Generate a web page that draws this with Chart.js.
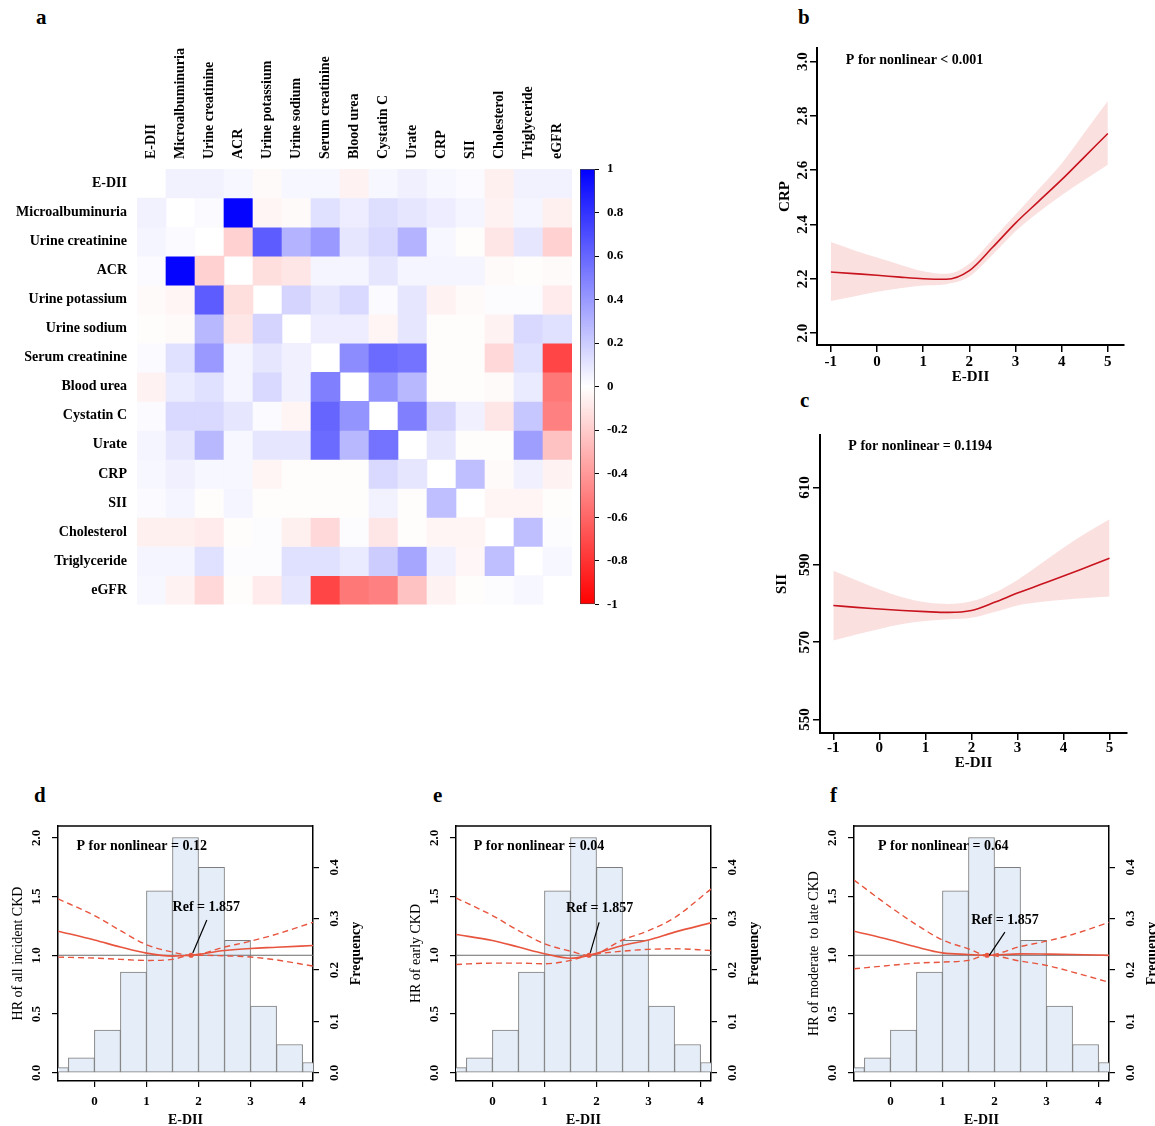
<!DOCTYPE html>
<html>
<head>
<meta charset="utf-8">
<script src="https://cdn.jsdelivr.net/npm/chart.js@4.4.1/dist/chart.umd.min.js"></script>
<style>
  html, body { margin: 0; padding: 0; background: #fff; overflow: hidden; }
  #fig { position: relative; width: 1155px; height: 1126px; overflow: hidden; }
  .box { position: absolute; }
  .tag { position: absolute; font: bold 21px "Liberation Serif", "Times New Roman", serif; color: #000; }
</style>
</head>
<body>
<div id="fig">
  <div class="tag" style="left:36px;top:5px">a</div>
  <div class="tag" style="left:798px;top:5px">b</div>
  <div class="tag" style="left:800px;top:388px">c</div>
  <div class="tag" style="left:34px;top:783px">d</div>
  <div class="tag" style="left:433px;top:783px">e</div>
  <div class="tag" style="left:830px;top:783px">f</div>

  <!-- extra 18px at the bottom is eaten by the y-axis label padding -->
  <div class="box" style="left:0;top:0;width:572px;height:623px"><canvas id="heat"></canvas></div>
  <div class="box" style="left:560px;top:150px;width:80px;height:470px"><canvas id="cbar"></canvas></div>
  <div class="box" style="left:760px;top:35px;width:395px;height:360px"><canvas id="crp"></canvas></div>
  <div class="box" style="left:760px;top:425px;width:395px;height:350px"><canvas id="sii"></canvas></div>
  <div class="box" style="left:0;top:810px;width:376px;height:330px"><canvas id="hrAll"></canvas></div>
  <div class="box" style="left:398px;top:810px;width:376px;height:330px"><canvas id="hrEarly"></canvas></div>
  <div class="box" style="left:796px;top:810px;width:376px;height:330px"><canvas id="hrLate"></canvas></div>
</div>
<script>
// ---- data ----
const heatVars = ["E-DII", "Microalbuminuria", "Urine creatinine", "ACR", "Urine potassium", "Urine sodium",
  "Serum creatinine", "Blood urea", "Cystatin C", "Urate", "CRP", "SII", "Cholesterol", "Triglyceride", "eGFR"];

// correlation rows (diagonal left blank, as in the picture)
const corrRows = [
  [null, 0.05, 0.05, 0.03, -0.02, 0.03, 0.03, -0.05, 0.03, 0.06, 0.03, 0.02, -0.06, 0.05, 0.05],
  [0.05, null, 0.02, 0.98, -0.04, -0.02, 0.12, 0.07, 0.13, 0.10, 0.07, 0.04, -0.05, 0.04, -0.06],
  [0.04, 0.02, null, -0.18, 0.64, 0.30, 0.40, 0.10, 0.15, 0.30, 0.03, -0.01, -0.10, 0.10, -0.18],
  [0.02, 0.98, -0.18, null, -0.13, -0.10, 0.04, 0.04, 0.10, 0.04, 0.04, 0.04, -0.02, -0.01, -0.02],
  [-0.02, -0.04, 0.64, -0.13, null, 0.17, 0.10, 0.15, 0.02, 0.10, -0.05, -0.02, 0.01, 0.01, -0.08],
  [-0.01, -0.02, 0.28, -0.10, 0.17, null, 0.07, 0.07, -0.04, 0.10, -0.01, -0.01, -0.05, 0.15, 0.12],
  [0.02, 0.12, 0.40, 0.04, 0.10, 0.06, null, 0.45, 0.58, 0.55, -0.01, -0.01, -0.15, 0.12, -0.73],
  [-0.05, 0.08, 0.12, 0.04, 0.15, 0.06, 0.50, null, 0.42, 0.28, -0.01, -0.01, -0.02, 0.08, -0.53],
  [0.02, 0.15, 0.15, 0.10, 0.02, -0.04, 0.60, 0.42, null, 0.50, 0.17, 0.06, -0.10, 0.22, -0.50],
  [0.04, 0.10, 0.28, 0.03, 0.10, 0.10, 0.58, 0.28, 0.55, null, 0.10, -0.01, -0.01, 0.38, -0.24],
  [0.03, 0.06, 0.03, 0.03, -0.04, -0.01, -0.01, -0.01, 0.15, 0.10, null, 0.25, -0.02, 0.06, -0.05],
  [0.02, 0.04, -0.01, 0.04, -0.01, -0.01, -0.01, -0.01, 0.05, -0.01, 0.25, null, -0.04, -0.04, -0.01],
  [-0.06, -0.06, -0.08, -0.01, 0.01, -0.06, -0.15, 0.01, -0.10, -0.01, -0.04, -0.04, null, 0.25, 0.01],
  [0.04, 0.04, 0.12, 0.01, 0.01, 0.12, 0.12, 0.08, 0.20, 0.35, 0.06, -0.03, 0.25, null, 0.03],
  [0.03, -0.05, -0.15, -0.01, -0.08, 0.10, -0.73, -0.53, -0.50, -0.24, -0.05, -0.01, 0.01, 0.03, null],
];
const colorbarTicks = [-1, -0.8, -0.6, -0.4, -0.2, 0, 0.2, 0.4, 0.6, 0.8, 1];

// restricted cubic spline panels (b, c)
const splineX = [-1, -0.5, 0, 0.5, 1, 1.5, 2, 2.5, 3, 3.5, 4, 4.5, 5];
const crpFit = [2.225, 2.219, 2.213, 2.206, 2.200, 2.198, 2.230, 2.315, 2.405, 2.485, 2.565, 2.650, 2.735];
const crpUpper = [2.335, 2.305, 2.278, 2.252, 2.228, 2.218, 2.255, 2.345, 2.437, 2.530, 2.625, 2.740, 2.855];
const crpLower = [2.118, 2.135, 2.152, 2.165, 2.175, 2.180, 2.208, 2.288, 2.375, 2.445, 2.508, 2.565, 2.620];
const siiFit = [579.5, 579.0, 578.6, 578.2, 577.9, 577.7, 578.2, 580.3, 582.7, 584.9, 587.1, 589.4, 591.7];
const siiUpper = [588.5, 586.0, 583.6, 581.6, 580.3, 579.9, 580.6, 582.8, 586.1, 590.2, 594.4, 598.3, 601.8];
const siiLower = [570.4, 572.0, 573.4, 574.7, 575.5, 575.9, 576.3, 577.8, 579.5, 580.4, 581.0, 581.4, 581.8];
const splineXTicks = [-1, 0, 1, 2, 3, 4, 5];
const crpTicks = [2.0, 2.2, 2.4, 2.6, 2.8, 3.0];
const siiTicks = [550, 570, 590, 610];

// hazard ratio panels (d, e, f)
const histCenters = [-0.75, -0.25, 0.25, 0.75, 1.25, 1.75, 2.25, 2.75, 3.25, 3.75, 4.25];
const histFreq = [0.010, 0.029, 0.083, 0.196, 0.354, 0.458, 0.400, 0.258, 0.130, 0.055, 0.020];
const hrX = [-0.7, 0, 0.5, 1, 1.5, 1.857, 2.5, 3, 3.5, 4.2];
const refEdii = 1.857;
const allFit = [1.205, 1.13, 1.07, 1.018, 0.993, 1.0, 1.04, 1.058, 1.068, 1.083];
const allUpper = [1.48, 1.338, 1.21, 1.09, 1.027, 1.0, 1.07, 1.12, 1.18, 1.28];
const allLower = [0.984, 0.976, 0.965, 0.956, 0.965, 1.0, 0.995, 0.985, 0.96, 0.908];
const earlyFit = [1.177, 1.126, 1.07, 1.013, 0.975, 1.0, 1.083, 1.13, 1.197, 1.276];
const earlyUpper = [1.488, 1.338, 1.21, 1.098, 1.035, 1.0, 1.13, 1.21, 1.32, 1.564];
const earlyLower = [0.922, 0.933, 0.933, 0.928, 0.956, 1.0, 1.035, 1.05, 1.055, 1.041];
const lateFit = [1.205, 1.13, 1.07, 1.02, 1.007, 1.0, 1.012, 1.01, 1.007, 0.999];
const lateUpper = [1.64, 1.41, 1.26, 1.13, 1.055, 1.0, 1.075, 1.12, 1.177, 1.28];
const lateLower = [0.885, 0.914, 0.933, 0.942, 0.956, 1.0, 0.95, 0.914, 0.857, 0.77];
const hrXTicks = [0, 1, 2, 3, 4];
const hrTicks = [0, 0.5, 1, 1.5, 2];
const freqTicks = [0, 0.1, 0.2, 0.3, 0.4];

// ---- helpers ----
const serif = '"Liberation Serif", "Times New Roman", serif';
Chart.defaults.font.family = serif;
Chart.defaults.color = "#000";
Chart.defaults.animation = false;
Chart.defaults.plugins.legend.display = false;
Chart.defaults.plugins.tooltip.enabled = false;

const bold = (size) => ({ family: serif, size, weight: "bold" });
const pts = (xs, ys) => xs.map((x, i) => ({ x, y: ys[i] }));
const fixTicks = (vals) => (s) => { s.ticks = vals.map((value) => ({ value })); };

function corrColor(v) {
  if (v === null) return "rgba(0,0,0,0)";
  const t = Math.round(255 * (1 - Math.abs(v)));
  return v >= 0 ? `rgb(${t},${t},255)` : `rgb(255,${t},${t})`;
}

// text + leader lines + frame, placed in data units
const notes = {
  id: "notes",
  afterDraw(chart, args, opts) {
    const { ctx, scales, chartArea } = chart;
    const px = (v) => scales.x.getPixelForValue(v);
    const py = (v) => scales.y.getPixelForValue(v);
    ctx.save();
    ctx.fillStyle = "#000";
    ctx.strokeStyle = "#000";
    if (opts.frame) {
      ctx.lineWidth = 1.5;
      ctx.beginPath();
      ctx.moveTo(chartArea.left, chartArea.top);
      ctx.lineTo(chartArea.right, chartArea.top);
      ctx.stroke();
    }
    for (const l of opts.lines || []) {
      ctx.lineWidth = 1.2;
      ctx.beginPath();
      ctx.moveTo(px(l[0]), py(l[1]));
      ctx.lineTo(px(l[2]), py(l[3]));
      ctx.stroke();
    }
    for (const n of opts.texts || []) {
      ctx.font = `bold 14px ${serif}`;
      ctx.textAlign = n.align || "left";
      ctx.textBaseline = "middle";
      ctx.fillText(n.text, px(n.x), py(n.y));
    }
    if (opts.sideTitle) {
      ctx.font = `bold 14px ${serif}`;
      ctx.translate(chartArea.right + opts.sideTitle.offset, (chartArea.top + chartArea.bottom) / 2);
      ctx.rotate(-Math.PI / 2);
      ctx.textAlign = "center";
      ctx.textBaseline = "middle";
      ctx.fillText(opts.sideTitle.text, 0, 0);
    }
    ctx.restore();
  },
};

// ---- a: correlation heatmap ----
new Chart(document.getElementById("heat"), {
  type: "bar",
  data: {
    labels: heatVars,
    datasets: corrRows.map((row, r) => ({
      data: row.map((v) => (v === null ? null : [r, r + 1])),
      backgroundColor: row.map(corrColor),
      borderWidth: 0,
      barPercentage: 1,
      categoryPercentage: 1,
      grouped: false,
    })),
  },
  options: {
    responsive: true,
    maintainAspectRatio: false,
    layout: { padding: 0 },
    scales: {
      x: {
        position: "top",
        grid: { display: false, drawTicks: false },
        border: { display: false },
        // rotated top labels sit one line-height left of the tick, push them back
        ticks: { minRotation: 90, maxRotation: 90, autoSkip: false, padding: 10, labelOffset: 16.8, font: bold(14) },
        afterFit: (s) => { s.height = 169; },
      },
      y: {
        type: "linear",
        min: 0,
        max: 15,
        reverse: true,
        grid: { display: false, drawTicks: false },
        border: { display: false },
        afterBuildTicks: (s) => { s.ticks = heatVars.map((_, i) => ({ value: i + 0.5 })); },
        ticks: { autoSkip: false, padding: 10, font: bold(14), callback: (v) => heatVars[Math.floor(v)] },
        afterFit: (s) => { s.width = 137; },
      },
    },
  },
});

// colour bar
function barGradient(ctx) {
  const a = ctx.chart.chartArea;
  if (!a) return "#fff";
  const g = ctx.chart.ctx.createLinearGradient(0, a.bottom, 0, a.top);
  g.addColorStop(0, corrColor(-1));
  g.addColorStop(0.5, "#fff");
  g.addColorStop(1, corrColor(1));
  return g;
}
new Chart(document.getElementById("cbar"), {
  type: "bar",
  data: {
    labels: [""],
    datasets: [{
      data: [[-1, 1]],
      backgroundColor: barGradient,
      borderColor: "#444",
      borderWidth: 1,
      borderSkipped: false,
      barPercentage: 1,
      categoryPercentage: 1,
    }],
  },
  options: {
    responsive: true,
    maintainAspectRatio: false,
    layout: { padding: { left: 20, top: 19, bottom: 15 } },
    scales: {
      x: { display: false },
      y: {
        position: "right",
        min: -1,
        max: 1,
        afterBuildTicks: fixTicks(colorbarTicks),
        grid: { drawOnChartArea: false, tickLength: 4, color: "#000" },
        border: { display: false },
        ticks: { padding: 8, font: bold(13), autoSkip: false, callback: (v) => String(Math.round(v * 10) / 10) },
        afterFit: (s) => { s.width = 45; },
      },
    },
  },
});

// ---- b, c: spline panels ----
function splinePanel(id, fit, upper, lower, o) {
  const axisLine = { color: "#000", width: 2 };
  const tickGrid = { drawOnChartArea: false, tickLength: 7, color: "#000", lineWidth: 1.5 };
  new Chart(document.getElementById(id), {
    type: "line",
    data: {
      datasets: [
        { data: pts(splineX, fit), borderColor: "#c8141e", borderWidth: 1.6, pointRadius: 0,
          cubicInterpolationMode: "monotone", fill: false, order: 0 },
        { data: pts(splineX, upper), borderColor: "rgba(0,0,0,0)", borderWidth: 0, pointRadius: 0,
          cubicInterpolationMode: "monotone", fill: "+1", backgroundColor: "#fbe0e0", order: 2 },
        { data: pts(splineX, lower), borderColor: "rgba(0,0,0,0)", borderWidth: 0, pointRadius: 0,
          cubicInterpolationMode: "monotone", fill: false, order: 3 },
      ],
    },
    plugins: [notes],
    options: {
      responsive: true,
      maintainAspectRatio: false,
      layout: { padding: o.pad },
      plugins: { notes: { texts: [o.note] } },
      scales: {
        x: {
          type: "linear", min: o.xMin, max: o.xMax,
          afterBuildTicks: fixTicks(splineXTicks),
          grid: tickGrid, border: axisLine,
          ticks: { padding: o.xPad, font: bold(15), autoSkip: false, callback: (v) => String(v) },
          title: { display: true, text: "E-DII", font: bold(15), padding: { top: 0, bottom: o.xTitlePad } },
          afterFit: (s) => { s.height = o.xH; },
        },
        y: {
          min: o.yMin, max: o.yMax,
          afterBuildTicks: fixTicks(o.yTicks),
          grid: tickGrid, border: axisLine,
          ticks: { minRotation: 90, crossAlign: "center", padding: o.yPad, font: bold(15), autoSkip: false, callback: o.yFmt },
          title: { display: true, text: o.yTitle, font: bold(15), padding: { top: o.yTitlePad, bottom: 0 } },
          afterFit: (s) => { s.width = o.yW; },
        },
      },
    },
  });
}

splinePanel("crp", crpFit, crpUpper, crpLower, {
  pad: { top: 13, right: 31 }, xMin: -1.3, xMax: 5.35, yMin: 1.956, yMax: 3.05,
  yTicks: crpTicks, yFmt: (v) => v.toFixed(1), yTitle: "CRP",
  xH: 50, yW: 57, xPad: 1, yPad: -2, xTitlePad: 9, yTitlePad: 16,
  note: { text: "P for nonlinear < 0.001", x: -0.675, y: 3.004 },
});
splinePanel("sii", siiFit, siiUpper, siiLower, {
  pad: { top: 10, right: 28 }, xMin: -1.29, xMax: 5.38, yMin: 546.5, yMax: 623.6,
  yTicks: siiTicks, yFmt: (v) => String(v), yTitle: "SII",
  xH: 42, yW: 60, xPad: -1, yPad: -3, xTitlePad: 3, yTitlePad: 12.7,
  note: { text: "P for nonlinear = 0.1194", x: -0.674, y: 620.6 },
});

// ---- d, e, f: hazard ratio with E-DII histogram ----
function hrPanel(id, fit, upper, lower, yTitle, o) {
  const red = "#e8553f";
  const boxLine = { color: "#000", width: 1.5 };
  const tickGrid = { drawOnChartArea: false, tickLength: 6, color: "#000", lineWidth: 1.2, offset: false };
  const curve = (ys, dash, w) => ({
    type: "line", data: pts(hrX, ys), borderColor: red, borderWidth: w, borderDash: dash,
    pointRadius: 0, cubicInterpolationMode: "monotone", fill: false, order: 2, clip: 0,
  });
  new Chart(document.getElementById(id), {
    type: "bar",
    data: {
      datasets: [
        { type: "line", data: [{ x: refEdii, y: 1 }], showLine: false, pointRadius: 2.6,
          pointBackgroundColor: red, pointBorderWidth: 0, order: 0 },
        curve(fit, [], 1.6),
        curve(upper, [6, 4], 1.4),
        curve(lower, [6, 4], 1.4),
        { type: "line", data: [{ x: -0.7, y: 1 }, { x: 4.2, y: 1 }], borderColor: "#6b6b6b", borderWidth: 1,
          pointRadius: 0, order: 5 },
        { type: "bar", data: pts(histCenters, histFreq), yAxisID: "y2", backgroundColor: "#e5eef8",
          borderColor: "#7d7d7d", borderWidth: 1, borderSkipped: false, barPercentage: 1,
          categoryPercentage: 1, order: 10, clip: 0 },
      ],
    },
    plugins: [notes],
    options: {
      responsive: true,
      maintainAspectRatio: false,
      layout: { padding: { top: 16 } },
      plugins: {
        notes: {
          frame: true,
          texts: [o.pNote, o.refNote],
          lines: [o.leader],
          sideTitle: { text: "Frequency", offset: 43 },
        },
      },
      scales: {
        x: {
          type: "linear", min: -0.7, max: 4.2, offset: false,
          afterBuildTicks: fixTicks(hrXTicks),
          grid: tickGrid, border: boxLine,
          ticks: { padding: 7, font: bold(13), autoSkip: false, callback: (v) => String(v) },
          title: { display: true, text: "E-DII", font: bold(14), padding: { top: 0, bottom: 11.6 } },
          afterFit: (s) => { s.height = 59; },
        },
        y: {
          position: "left", min: -0.07, max: 2.1,
          afterBuildTicks: fixTicks(hrTicks),
          grid: tickGrid, border: boxLine,
          ticks: { minRotation: 90, crossAlign: "center", padding: 7, font: bold(13), autoSkip: false,
            callback: (v) => v.toFixed(1) },
          title: { display: true, text: yTitle, font: { family: serif, size: 14 }, padding: { top: 9.6, bottom: 0 } },
          afterFit: (s) => { s.width = 58; },
        },
        y2: {
          position: "right", min: -0.016, max: 0.4803,
          afterBuildTicks: fixTicks(freqTicks),
          grid: tickGrid, border: boxLine,
          ticks: { minRotation: 90, crossAlign: "center", padding: 8, font: bold(13), autoSkip: false,
            callback: (v) => v.toFixed(1) },
          afterFit: (s) => { s.width = 63; },
        },
      },
    },
  });
}

hrPanel("hrAll", allFit, allUpper, allLower, "HR of all incident CKD", {
  pNote: { text: "P for nonlinear = 0.12", x: -0.345, y: 1.93 },
  refNote: { text: "Ref = 1.857", x: 2.15, y: 1.41, align: "center" },
  leader: [2.16, 1.30, 1.89, 1.02],
});
hrPanel("hrEarly", earlyFit, earlyUpper, earlyLower, "HR of early CKD", {
  pNote: { text: "P for nonlinear = 0.04", x: -0.36, y: 1.93 },
  refNote: { text: "Ref = 1.857", x: 2.06, y: 1.395, align: "center" },
  leader: [2.05, 1.28, 1.88, 1.02],
});
hrPanel("hrLate", lateFit, lateUpper, lateLower, "HR of moderate  to late CKD", {
  pNote: { text: "P for nonlinear = 0.64", x: -0.24, y: 1.93 },
  refNote: { text: "Ref = 1.857", x: 2.2, y: 1.30, align: "center" },
  leader: [2.2, 1.197, 1.9, 0.999],
});
</script>
</body>
</html>
